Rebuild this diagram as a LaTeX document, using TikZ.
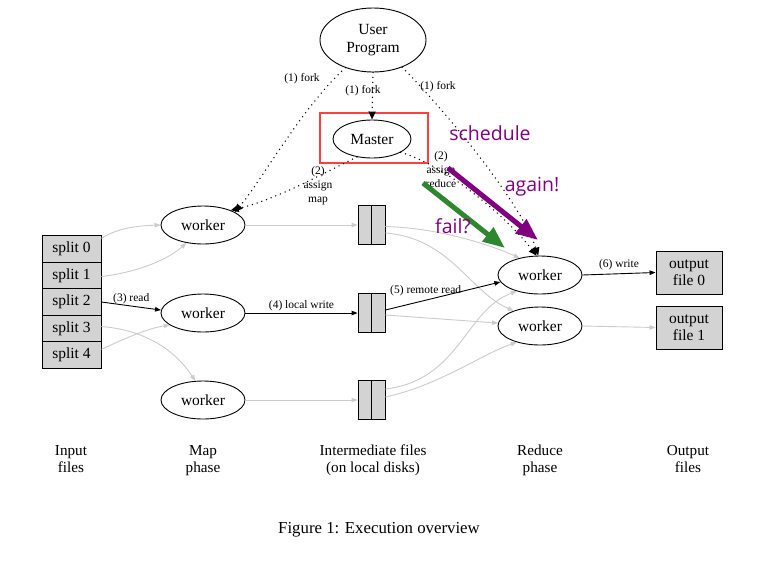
\documentclass[tikz,border=0pt]{standalone}
\usepackage{fontspec}
\setmainfont{Liberation Serif}
\newfontfamily\annfont{Open Sans}
\usetikzlibrary{arrows.meta,shapes.geometric,calc}
\definecolor{annpurple}{RGB}{128,0,128}
\definecolor{anngreen}{RGB}{46,135,46}
\definecolor{boxred}{RGB}{255,64,64}
\definecolor{boxgray}{RGB}{211,211,211}
\begin{document}
\begin{tikzpicture}[x=1pt,y=-1pt,
  ell/.style={ellipse, draw, line width=0.9pt, inner sep=0pt, font=\fontsize{15.5}{18}\selectfont, align=center},
  wk/.style={ell, minimum width=84, minimum height=38},
  filebox/.style={draw, fill=boxgray, line width=0.9pt, inner sep=0pt, font=\fontsize{15.5}{17}\selectfont, align=center},
  lab/.style={font=\fontsize{11.5}{14}\selectfont, inner sep=1pt, align=center},
  phase/.style={font=\fontsize{15.2}{17}\selectfont, align=center, inner sep=0pt, anchor=north},
  dots/.style={line width=1.5pt, dash pattern=on 0pt off 5pt, line cap=round, -{Triangle[length=8pt,width=7pt]}},
  gedge/.style={draw=black!20, line width=0.9pt, -{Triangle[length=6pt,width=4.5pt]}},
  bedge/.style={draw=black, line width=0.9pt, -{Triangle[length=6pt,width=4.5pt]}},
  bigarr/.style={line width=5pt, -{Triangle[length=22pt,width=17pt]}},
  ann/.style={font=\annfont\fontsize{19.5}{22}\selectfont, text=annpurple, inner sep=0pt}
]
\useasboundingbox (0,0) rectangle (763,563);
\fill[white] (0,0) rectangle (763,563);

% main nodes
\node[ell, minimum width=106, minimum height=64] (up) at (373,40) {User\\Program};
\node[ell, minimum width=78, minimum height=38] (m) at (372,139) {Master};
\node[draw=boxred, line width=2pt, minimum width=108, minimum height=50, inner sep=0pt] (red) at (374,137.5) {};

\node[wk] (mw1) at (203,225) {worker};
\node[wk] (mw2) at (203,313) {worker};
\node[wk] (mw3) at (203,400) {worker};

\node[wk] (rw1) at (540,275) {worker};
\node[wk] (rw2) at (540,326) {worker};

% splits
\foreach \i/\yy in {0/249,1/275.5,2/302,3/328.5,4/355}{
  \node[filebox, minimum width=59, minimum height=26.5] (s\i) at (71.5,\yy) {split \i};
}

% intermediate files
\foreach \i/\yy in {1/225,2/313,3/400}{
  \node[filebox, minimum width=27, minimum height=39.5] (f\i) at (371.5,\yy) {};
  \draw[line width=0.9pt] (f\i.north) -- (f\i.south);
}

% output files
\node[filebox, minimum width=66, minimum height=43] (o0) at (689,272.5) {output\\file 0};
\node[filebox, minimum width=66, minimum height=43] (o1) at (689,327.5) {output\\file 1};

% input -> map
\draw[gedge] ($(s0.north east)+(0,3)$) .. controls (115,230) and (130,226) .. (mw1.west);
\draw[gedge] ($(s1.east)+(0,1)$) .. controls (140,272) and (170,258) .. (mw1.-133);
\draw[bedge] (s2.east) -- (mw2.176) node[lab, midway, above=1pt] {(3) read};
\draw[gedge] ($(s3.east)+(0,-2)$) .. controls (145,330) and (175,350) .. (mw3.112);
\draw[gedge] ($(s4.north east)+(0,8)$) .. controls (130,336) and (150,328) .. (mw2.-160);

% map -> intermediate
\draw[gedge] (mw1.east) -- (f1.west);
\draw[bedge] (mw2.east) -- (f2.west) node[lab, midway, above=1pt] {(4) local write};
\draw[gedge] (mw3.east) -- (f3.west);

% intermediate -> reduce
\draw[gedge] ($(f1.east)+(0,1.5)$) .. controls (440,228) and (490,245) .. (rw1.140);
\draw[gedge] ($(f1.east)+(0,8)$) .. controls (450,238) and (470,292) .. (rw2.150);
\draw[bedge] ($(f2.east)+(0,-3)$) -- (rw1.190) node[lab, pos=0.35, above=3pt] {(5) remote read};
\draw[gedge] ($(f2.east)+(0,2)$) -- (rw2.176);
\draw[gedge] ($(f3.east)+(0,-11)$) .. controls (460,380) and (465,310) .. (rw1.-145);
\draw[gedge] ($(f3.east)+(0,-3)$) .. controls (440,385) and (480,355) .. (rw2.-145);

% reduce -> output
\draw[bedge] (rw1.east) -- (o0.west) node[lab, midway, above=2pt] {(6) write};
\draw[gedge] (rw2.east) -- (o1.west);

% fork / assign (dotted)
\draw[dots] (up.south) -- (m.north);
\node[lab] (lf2) at (363,91) {(1) fork};
\draw[dots] (up.-135) .. controls (300,110) and (262,180) .. (mw1.22);
\node[lab] (lf1) at (302,79) {(1) fork};
\draw[dots] (up.-43) .. controls (440,105) and (520,200) .. (rw1.95);
\node[lab] (lf3) at (438,87) {(1) fork};
\draw[dots] (m.-130) .. controls (320,175) and (275,200) .. (mw1.28);
\node[lab] (la1) at (318,186) {(2)\\assign\\map};
\draw[dots] (m.-25) .. controls (445,165) and (505,215) .. (rw1.100);
\node[lab] (la2) at (441,170) {(2)\\assign\\reduce};

% annotations
\coordinate (g0) at (423,183);
\coordinate (g1) at (505,248);
\coordinate (p0) at (448,168);
\coordinate (p1) at (538,240);
\draw[bigarr, anngreen] (g0) -- (g1);
\draw[bigarr, annpurple] (p0) -- (p1);
\node[ann] (sch) at (490,133) {schedule};
\node[ann] (aga) at (532,187) {again!};
\node[ann] (fai) at (453,226) {fail?};

% phase labels
\node[phase] (pin) at (71,443) {\strut Input\\\strut files};
\node[phase] (pmap) at (203,443) {\strut Map\\\strut phase};
\node[phase] (pint) at (373,443) {\strut Intermediate files\\\strut (on local disks)};
\node[phase] (pred) at (540,443) {\strut Reduce\\\strut phase};
\node[phase] (pout) at (688,443) {\strut Output\\\strut files};

\node[font=\fontsize{16.8}{20}\selectfont, inner sep=0pt] (cap) at (379,530) {Figure 1: Execution overview};
\end{tikzpicture}
\end{document}
